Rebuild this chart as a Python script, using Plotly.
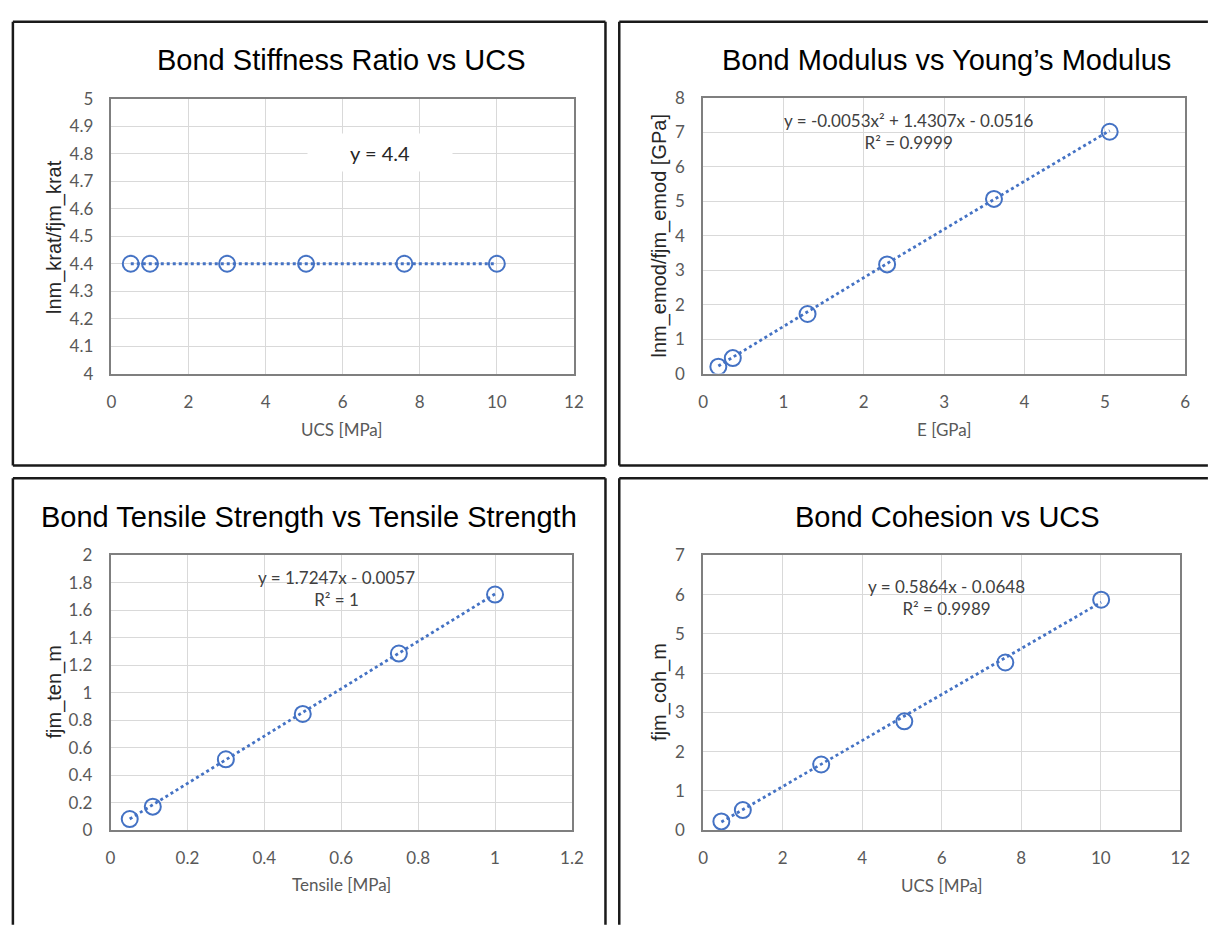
import numpy as np
import plotly.graph_objects as go

W, H = 1213, 927

# ---------------- data ----------------
ucs_1 = [0.5, 1.0, 3.0, 5.05, 7.6, 10.0]
krat_ratio = [4.4, 4.4, 4.4, 4.4, 4.4, 4.4]
fit_1 = [4.4]  # y = 4.4

e_gpa = [0.19, 0.37, 1.30, 2.29, 3.62, 5.06]
emod = [0.20, 0.45, 1.73, 3.17, 5.07, 7.02]
fit_2 = [-0.0053, 1.4307, -0.0516]  # quadratic

tensile = [0.05, 0.11, 0.30, 0.50, 0.75, 1.00]
ten_m = [0.08, 0.17, 0.515, 0.845, 1.285, 1.715]
fit_3 = [1.7247, -0.0057]

ucs_4 = [0.46, 1.0, 2.97, 5.06, 7.60, 10.01]
coh_m = [0.22, 0.51, 1.67, 2.77, 4.27, 5.87]
fit_4 = [0.5864, -0.0648]

titles = ["Bond Stiffness Ratio vs UCS", "Bond Modulus vs Young\u2019s Modulus",
          "Bond Tensile Strength vs Tensile Strength", "Bond Cohesion vs UCS"]
xtitles = ["UCS [MPa]", "E [GPa]", "Tensile [MPa]", "UCS [MPa]"]
ytitles = ["lnm_krat/fjm_krat", "lnm_emod/fjm_emod [GPa]", "fjm_ten_m", "fjm_coh_m"]
eq_texts = ["y = 4.4",
            "y = -0.0053x\u00b2 + 1.4307x - 0.0516<br>R\u00b2 = 0.9999",
            "y = 1.7247x - 0.0057<br>R\u00b2 = 1",
            "y = 0.5864x - 0.0648<br>R\u00b2 = 0.9989"]

# ---------------- layout helpers ----------------
def px(x):
    return x / W

def py(y):
    return 1 - y / H

BLUE = "#4472C4"
TICKFONT = dict(family="Lato, Carlito, sans-serif", size=17, color="#595959")
plot_boxes = [  # left, right, top, bottom in pixels
    (108, 577, 90, 371),
    (708, 1197, 89, 371),
    (107, 575, 557, 838),
    (708, 1192, 557, 838),
]
ranges = [
    ((0, 12), 2, (4, 5), 0.1),
    ((0, 6), 1, (0, 8), 1),
    ((0, 1.2), 0.2, (0, 2), 0.2),
    ((0, 12), 2, (0, 7), 1),
]

fig = go.Figure()

datasets = [(ucs_1, krat_ratio), (e_gpa, emod), (tensile, ten_m), (ucs_4, coh_m)]
fits = [fit_1, fit_2, fit_3, fit_4]

for i, ((xs, ys), coef) in enumerate(zip(datasets, fits)):
    suffix = "" if i == 0 else str(i + 1)
    xa, ya = "x" + suffix, "y" + suffix
    xl = np.linspace(min(xs), max(xs), 200)
    yl = np.polyval(coef, xl) if len(coef) > 1 else np.full_like(xl, coef[0])
    fig.add_trace(go.Scatter(x=xl, y=yl, mode="lines", xaxis=xa, yaxis=ya,
                             line=dict(color=BLUE, width=2.8, dash="dot"),
                             showlegend=False, hoverinfo="skip"))
    fig.add_trace(go.Scatter(x=xs, y=ys, mode="markers", xaxis=xa, yaxis=ya,
                             marker=dict(symbol="circle-open", size=16,
                                         color=BLUE, line=dict(width=2, color=BLUE)),
                             showlegend=False))

layout = dict(width=W, height=H, margin=dict(l=0, r=0, t=0, b=0),
              paper_bgcolor="white", plot_bgcolor="white", showlegend=False)

for i, ((l, r, t, b), (xr, dx, yr, dy)) in enumerate(zip(plot_boxes, ranges)):
    suffix = "" if i == 0 else str(i + 1)
    layout["xaxis" + suffix] = dict(
        domain=[px(l), px(r)], range=list(xr), dtick=dx, tick0=0,
        anchor="y" + suffix, showgrid=True, gridcolor="#D9D9D9", gridwidth=1,
        zeroline=False, showline=True, mirror=True, linecolor="#7F7F7F", linewidth=1.5,
        ticks="outside", ticklen=12, tickcolor="rgba(0,0,0,0)", tickfont=TICKFONT)
    layout["yaxis" + suffix] = dict(
        domain=[py(b), py(t)], range=list(yr), dtick=dy, tick0=yr[0],
        anchor="x" + suffix, showgrid=True, gridcolor="#D9D9D9", gridwidth=1,
        zeroline=False, showline=True, mirror=True, linecolor="#7F7F7F", linewidth=1.5,
        ticks="outside", ticklen=13, tickcolor="rgba(0,0,0,0)", tickfont=TICKFONT)

fig.update_layout(**layout)

# chart frames (sides that run off the page are not drawn)
FRAME = dict(color="#1a1a1a", width=2.5)
segments = [
    (8, 11, 609, 11), (8, 465, 609, 465), (8, 11, 8, 465), (609, 11, 609, 465),
    (623, 11, 1220, 11), (623, 465, 1220, 465), (623, 11, 623, 465),
    (8, 478, 609, 478), (8, 478, 8, 935), (609, 478, 609, 935),
    (623, 478, 1220, 478), (623, 478, 623, 935),
]
for (x0, y0, x1, y1) in segments:
    fig.add_shape(type="line", xref="paper", yref="paper",
                  x0=px(x0), x1=px(x1), y0=py(y0), y1=py(y1), line=FRAME)

# titles
title_pos = [(341, 50), (955, 50), (308, 518), (956, 518)]
for txt, (x, y) in zip(titles, title_pos):
    fig.add_annotation(text=txt, x=px(x), y=py(y), xref="paper", yref="paper",
                       showarrow=False, xanchor="center", yanchor="middle",
                       font=dict(family="Liberation Sans, Arial", size=29, color="#000000"))

# x axis titles
xt_pos = [(342, 428), (952, 428), (341, 894), (950, 895)]
for txt, (x, y) in zip(xtitles, xt_pos):
    fig.add_annotation(text=txt, x=px(x), y=py(y), xref="paper", yref="paper",
                       showarrow=False, xanchor="center", yanchor="middle",
                       font=dict(family="Lato, Carlito, sans-serif", size=17, color="#595959"))

# y axis titles
yt_pos = [(50, 231), (664, 230), (50, 697), (664, 697)]
for txt, (x, y) in zip(ytitles, yt_pos):
    fig.add_annotation(text=txt, x=px(x), y=py(y), xref="paper", yref="paper",
                       showarrow=False, xanchor="center", yanchor="middle", textangle=-90,
                       font=dict(family="Liberation Sans, Arial", size=20, color="#262626"))

# equations
fig.add_annotation(text=eq_texts[0], x=px(380), y=py(145), xref="paper", yref="paper",
                   showarrow=False, xanchor="center", yanchor="middle",
                   width=142, height=35, bgcolor="white",
                   font=dict(family="Lato, Carlito, sans-serif", size=20, color="#262626"))
eq_pos = [(916, 123), (336, 591), (955, 600)]
for txt, (x, y) in zip(eq_texts[1:], eq_pos):
    fig.add_annotation(text=txt, x=px(x), y=py(y), xref="paper", yref="paper",
                       showarrow=False, xanchor="center", yanchor="middle",
                       font=dict(family="Lato, Carlito, sans-serif", size=17, color="#404040"))

fig.write_html("out.html")
